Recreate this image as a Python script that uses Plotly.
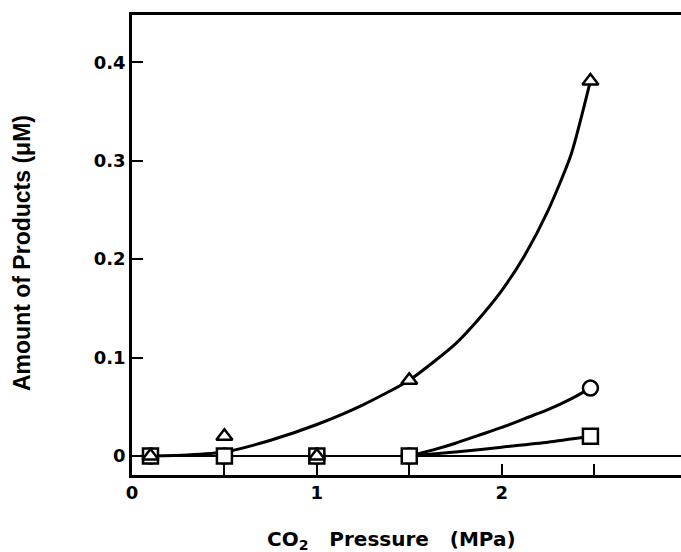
import plotly.graph_objects as go

# Measured points
pressure = [0.1, 0.5, 1.0, 1.5, 2.48]
triangle_vals = [0.0, 0.02, 0.0, 0.077, 0.381]
circle_vals = [0.0, 0.0, 0.0, 0.0, 0.069]
square_vals = [0.0, 0.0, 0.0, 0.0, 0.020]

# Hand-drawn curves
tri_curve_x = [0.1, 0.3, 0.5, 0.75, 1.0, 1.25, 1.5, 1.75, 1.875, 2.0, 2.125, 2.25, 2.375, 2.48]
tri_curve_y = [0.0, 0.001, 0.004, 0.016, 0.032, 0.052, 0.077, 0.114, 0.139, 0.168, 0.204, 0.249, 0.306, 0.381]
circ_curve_x = [1.5, 1.625, 1.75, 1.875, 2.0, 2.125, 2.25, 2.375, 2.48]
circ_curve_y = [0.0, 0.006, 0.013, 0.021, 0.029, 0.038, 0.047, 0.058, 0.069]
sq_curve_x = [1.5, 1.75, 2.0, 2.25, 2.48]
sq_curve_y = [0.0, 0.004, 0.009, 0.014, 0.020]

x_tickvals = [0, 0.5, 1, 1.5, 2, 2.5]
x_ticktext = ["0", " ", "1", " ", "2", " "]
y_tickvals = [0, 0.1, 0.2, 0.3, 0.4]
y_ticktext = ["0", "0.1", "0.2", "0.3", "0.4"]

fig = go.Figure()
line_style = dict(color="black", width=3, shape="spline", smoothing=0.6)
for cx, cy in [(tri_curve_x, tri_curve_y), (circ_curve_x, circ_curve_y), (sq_curve_x, sq_curve_y)]:
    fig.add_trace(go.Scatter(x=cx, y=cy, mode="lines", line=line_style,
                             showlegend=False, hoverinfo="skip"))

marker_line = dict(color="black", width=2.5)
fig.add_trace(go.Scatter(x=pressure, y=circle_vals, mode="markers",
                         marker=dict(symbol="circle", size=15, color="white", line=marker_line),
                         showlegend=False))
fig.add_trace(go.Scatter(x=pressure, y=square_vals, mode="markers",
                         marker=dict(symbol="square", size=15, color="white", line=marker_line),
                         showlegend=False))
fig.add_trace(go.Scatter(x=pressure, y=triangle_vals, mode="markers",
                         marker=dict(symbol="triangle-up", size=14, color="white", line=marker_line),
                         showlegend=False))

tick_font = dict(family="DejaVu Sans", size=18, color="black", weight="bold")

fig.update_layout(
    width=681, height=552,
    margin=dict(l=132, r=0, t=15, b=77),
    paper_bgcolor="white", plot_bgcolor="white",
    xaxis=dict(range=[0, 2.97], showgrid=False, zeroline=False,
               showline=True, linecolor="black", linewidth=2.5, mirror=True,
               ticks="inside", ticklen=11, tickwidth=2, tickcolor="black",
               tickvals=x_tickvals, ticktext=x_ticktext,
               tickfont=tick_font),
    yaxis=dict(range=[-0.0193, 0.448], showgrid=False,
               zeroline=True, zerolinecolor="black", zerolinewidth=2,
               showline=True, linecolor="black", linewidth=2.5, mirror=False,
               ticks="inside", ticklen=11, tickwidth=2, tickcolor="black",
               tickvals=y_tickvals, ticktext=y_ticktext,
               tickfont=tick_font),
    annotations=[
        dict(text="Amount of Products (\u03bcM)", x=22, y=253,
             showarrow=False, textangle=-90,
             font=dict(family="Liberation Sans", size=23, color="black", weight="bold")),
        dict(text="CO<sub>2</sub>   Pressure   (MPa)", x=391, y=540,
             showarrow=False,
             font=dict(family="DejaVu Sans", size=20, color="black", weight="bold")),
    ],
)

# convert pixel positions of annotations to paper coordinates
pw = 681 - 132
ph = 552 - 15 - 77
for ann in fig.layout.annotations:
    px, py = ann.x, ann.y
    ann.x = (px - 132) / pw
    ann.y = (552 - 77 - py) / ph
    ann.xref = "paper"
    ann.yref = "paper"
    ann.xanchor = "center"
    ann.yanchor = "middle"

fig.write_html("out.html")
